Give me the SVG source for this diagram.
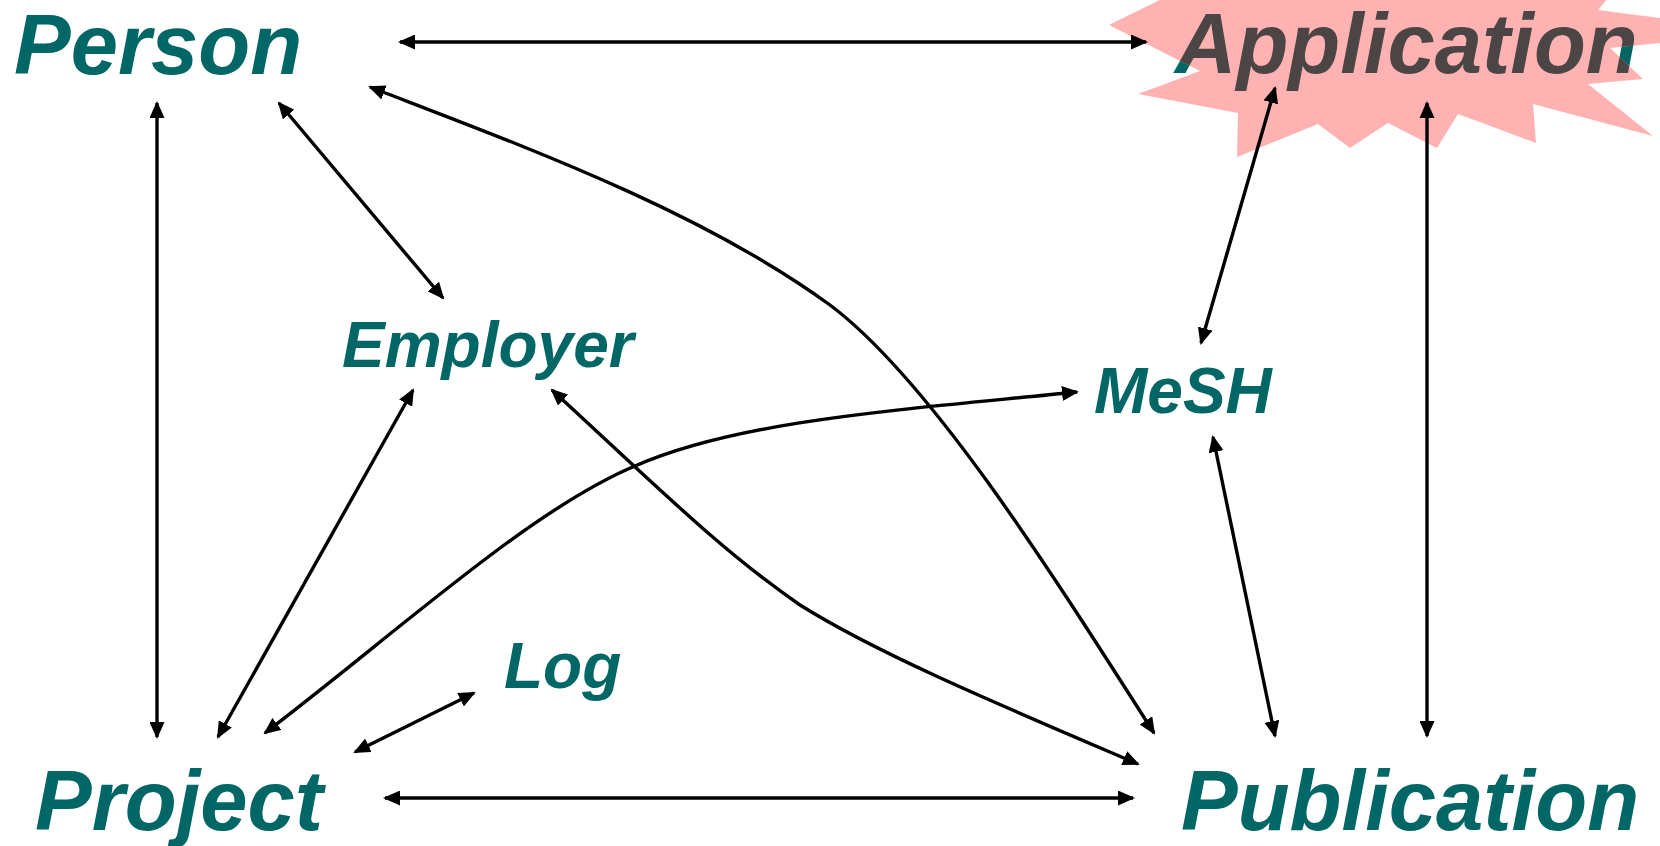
<svg xmlns="http://www.w3.org/2000/svg" width="1660" height="846" viewBox="0 0 1660 846">
  <style>
    .lbl { font-family: "Liberation Sans", Arial, sans-serif; font-weight: bold; font-style: italic; fill: #006666; }
    .big { font-size: 85px; }
    .small { font-size: 64px; }
    .grey { fill: #4b4545; }
    .burst { fill: #ffb2b2; }
    .edge { fill: none; stroke: #000; stroke-width: 3.4; marker-start: url(#arr); marker-end: url(#arr); }
  </style>
  <defs>
    <marker id="arr" markerUnits="userSpaceOnUse" viewBox="0 0 17 15" markerWidth="17" markerHeight="15" refX="15" refY="7.5" orient="auto-start-reverse">
      <path d="M0,0 L17,7.5 L0,15 z" fill="#000"/>
    </marker>
    <polygon id="burstShape" points="1109,25 1200,71 1138,94 1238,113 1237,157 1318,124 1350,148 1388,123 1437,148 1458,114 1536,143 1533,104 1653,136 1588,84 1643,79 1610,48 1768,32 1598,10 1615,-10 1180,-10"/>
    <clipPath id="burstClip">
      <use href="#burstShape"/>
    </clipPath>
  </defs>
  <rect width="1660" height="846" fill="#fff"/>

  <g id="application">
    <text class="lbl big" x="1175" y="73">Application</text>
    <use href="#burstShape" class="burst"/>
    <text class="lbl big grey" x="1175" y="73" clip-path="url(#burstClip)">Application</text>
  </g>
  <g id="person">
    <text class="lbl big" x="14" y="74">Person</text>
  </g>
  <g id="project">
    <text class="lbl big" x="35" y="830">Project</text>
  </g>
  <g id="publication">
    <text class="lbl big" x="1181" y="830">Publication</text>
  </g>
  <g id="employer">
    <text class="lbl small" x="342" y="367">Employer</text>
  </g>
  <g id="mesh">
    <text class="lbl small" x="1094" y="413">MeSH</text>
  </g>
  <g id="log">
    <text class="lbl small" x="504" y="688">Log</text>
  </g>

  <g id="connectors">
    <path class="edge" d="M400,42 L1146,42"/>
    <path class="edge" d="M157,103 L157,737"/>
    <path class="edge" d="M279,103 L443,298"/>
    <path class="edge" d="M370,87 C520,145 700,210 830,305 C930,380 1050,570 1154,733"/>
    <path class="edge" d="M1275,88 L1201,343"/>
    <path class="edge" d="M1427,103 L1427,736"/>
    <path class="edge" d="M1213,437 L1275,736"/>
    <path class="edge" d="M413,390 L218,737"/>
    <path class="edge" d="M552,390 C650,480 720,550 800,605 C880,655 1000,705 1138,764"/>
    <path class="edge" d="M1077,392 C900,410 740,420 635,466 C530,510 400,630 265,733"/>
    <path class="edge" d="M474,693 L355,752"/>
    <path class="edge" d="M385,798 L1133,798"/>
  </g>
</svg>
